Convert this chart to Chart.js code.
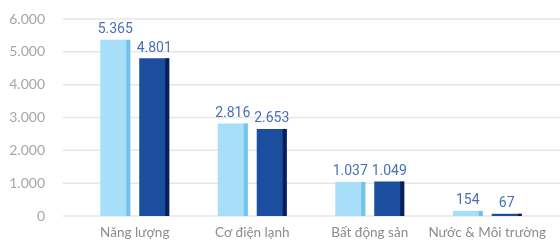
<!DOCTYPE html>
<html>
<head>
<meta charset="utf-8">
<script src="https://cdn.jsdelivr.net/npm/chart.js@4"></script>
<style>
    html, body { margin: 0; padding: 0; background: #fff; }
    #wrap { width: 560px; height: 244px; position: relative; }
</style>
</head>
<body>
<div id="wrap"><canvas id="myChart"></canvas></div>
<script>
const categories = ['Năng lượng', 'Cơ điện lạnh', 'Bất động sản', 'Nước & Môi trường'];
const seriesA = [5365, 2816, 1037, 154];
const seriesB = [4801, 2653, 1049, 67];
const yTicks = [0, 1000, 2000, 3000, 4000, 5000, 6000];

const fmt = v => v.toString().replace(/\B(?=(\d{3})+(?!\d))/g, '.');

// gridline ngang kéo dài từ sát nhãn trục tới mép phải
const gridPlugin = {
    id: 'wideGrid',
    beforeDatasetsDraw(chart) {
        const { ctx, scales: { y } } = chart;
        ctx.save();
        ctx.strokeStyle = '#e6e6e6';
        ctx.lineWidth = 1.5;
        y.ticks.forEach(t => {
            const py = y.getPixelForValue(t.value);
            ctx.beginPath();
            ctx.moveTo(63, py);
            ctx.lineTo(chart.width, py);
            ctx.stroke();
        });
        ctx.restore();
    }
};

// viền đậm bên phải cột + nhãn số liệu
const barPlugin = {
    id: 'barEdge',
    afterDatasetsDraw(chart) {
        const { ctx } = chart;
        const edgeColors = ['#72c2f0', '#0b1e5c'];
        ctx.save();
        chart.data.datasets.forEach((ds, i) => {
            chart.getDatasetMeta(i).data.forEach((bar, j) => {
                const right = bar.x + bar.width / 2;
                ctx.fillStyle = edgeColors[i];
                ctx.fillRect(right - 4, bar.y, 4, bar.base - bar.y);

                ctx.fillStyle = '#4a6fb5';
                ctx.font = '14px Roboto';
                ctx.textAlign = 'center';
                ctx.textBaseline = 'bottom';
                ctx.fillText(fmt(ds.data[j]), bar.x, bar.y - 3);
            });
        });
        ctx.restore();
    }
};

function initChart() {
    const ctx = document.getElementById('myChart').getContext('2d');
    new Chart(ctx, {
        type: 'bar',
        data: {
            labels: categories,
            datasets: [
                {
                    label: 'Series 1',
                    data: seriesA,
                    backgroundColor: '#a8dff8',
                    barPercentage: 0.77,
                    categoryPercentage: 0.663
                },
                {
                    label: 'Series 2',
                    data: seriesB,
                    backgroundColor: '#1c4ea0',
                    barPercentage: 0.77,
                    categoryPercentage: 0.663
                }
            ]
        },
        options: {
            responsive: true,
            maintainAspectRatio: false,
            animation: false,
            layout: {
                padding: { top: 19, right: 14, bottom: 0, left: 0 }
            },
            scales: {
                x: {
                    grid: { display: false, drawTicks: false },
                    border: { display: false },
                    ticks: {
                        color: '#8c8c8c',
                        font: { family: 'Lato', size: 13.5 },
                        padding: 9,
                        maxRotation: 0,
                        autoSkip: false
                    },
                    afterFit: s => {
                        s.height = 28;
                        s.paddingLeft = 0;
                        s.paddingRight = 0;
                    }
                },
                y: {
                    min: 0,
                    max: 6000,
                    grid: { display: false, drawTicks: false },
                    border: { display: false },
                    afterBuildTicks: s => { s.ticks = yTicks.map(v => ({ value: v })); },
                    ticks: {
                        color: '#a6a6a6',
                        font: { family: 'Lato', size: 14 },
                        padding: 31,
                        callback: v => fmt(v)
                    },
                    afterFit: s => {
                        s.width = 76;
                        s.paddingTop = 0;
                        s.paddingBottom = 0;
                    }
                }
            },
            plugins: {
                legend: { display: false },
                tooltip: { enabled: false }
            }
        },
        plugins: [gridPlugin, barPlugin]
    });
}

document.addEventListener('DOMContentLoaded', initChart);
</script>
</body>
</html>
